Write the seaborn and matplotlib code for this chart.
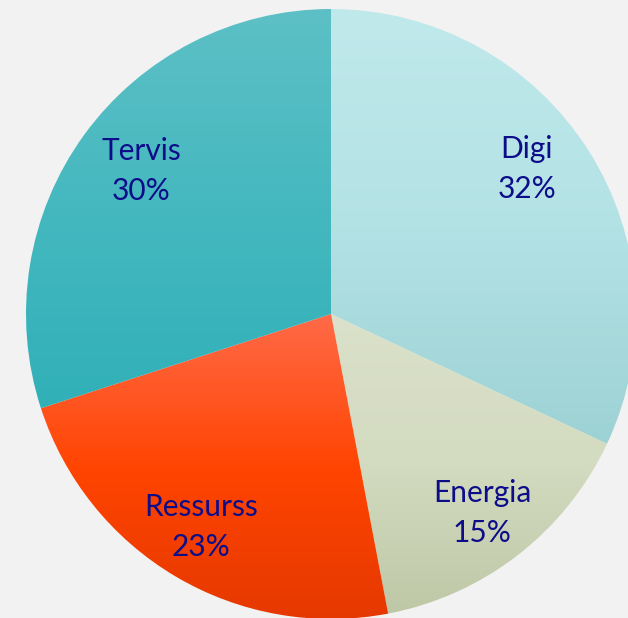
import numpy as np
import matplotlib
matplotlib.use("Agg")
import matplotlib.pyplot as plt
from matplotlib.colors import LinearSegmentedColormap
import seaborn as sns

categories = ["Digi", "Energia", "Ressurss", "Tervis"]
values = [32, 15, 23, 30]

# vertical gradient stops per slice (top -> bottom)
gradients = [
    ["#c0e9eb", "#b3e2e5", "#9dd2d4"],
    ["#dbe1ca", "#d3dbc0", "#bec8a6"],
    ["#ff6a48", "#ff4400", "#e43800"],
    ["#5dc0c6", "#45b8bf", "#31b0b8"],
]

sns.set_theme(style="white")
plt.rcParams["font.family"] = ["Lato", "DejaVu Sans"]

W, H, dpi = 628, 618, 100
fig = plt.figure(figsize=(W / dpi, H / dpi), dpi=dpi, facecolor="#f2f2f2")
ax = fig.add_axes([0, 0, 1, 1])
ax.set_facecolor("#f2f2f2")

R = 305.0
cx, cy = 331.0, 304.0  # center in px from left / bottom
xlim = (-cx / R, (W - cx) / R)
ylim = (-cy / R, (H - cy) / R)

wedges, texts = ax.pie(
    values,
    labels=[f"{c}\n{v}%" for c, v in zip(categories, values)],
    startangle=90,
    counterclock=False,
    labeldistance=0.8,
    wedgeprops=dict(linewidth=0),
    textprops=dict(color="#0d0d8a", fontsize=21.5, ha="center", va="center",
                   linespacing=1.5),
    normalize=True,
)

for w, stops in zip(wedges, gradients):
    w.set_facecolor("none")
    verts = w.get_path().vertices
    x0, x1 = verts[:, 0].min(), verts[:, 0].max()
    y0, y1 = verts[:, 1].min(), verts[:, 1].max()
    cmap = LinearSegmentedColormap.from_list("g", stops)
    grad = np.linspace(0, 1, 256).reshape(-1, 1)
    im = ax.imshow(grad, cmap=cmap, extent=[x0, x1, y0, y1], origin="upper",
                   aspect="auto", zorder=w.get_zorder(), interpolation="bilinear")
    im.set_clip_path(w)

# label centres (px from left, px from top) as placed in the reference
label_px = [(527, 169), (482, 513), (201, 527), (141, 171)]
for t, (px, py) in zip(texts, label_px):
    t.set_position(((px - cx) / R, ((H - py) - cy) / R))
    t.set_zorder(5)

ax.set_xlim(*xlim)
ax.set_ylim(*ylim)
ax.set_aspect("equal", adjustable="box")
ax.axis("off")
fig.savefig("out.png", dpi=dpi, facecolor="#f2f2f2")
